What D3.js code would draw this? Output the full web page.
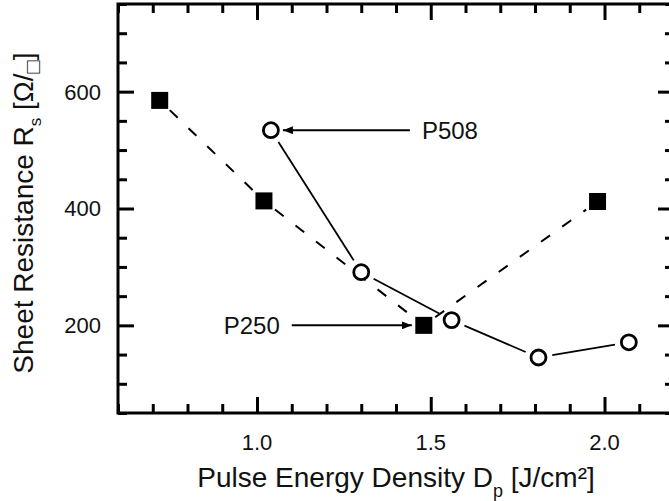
<!DOCTYPE html>
<html>
<head>
<meta charset="utf-8">
<script src="https://cdn.jsdelivr.net/npm/d3@7"></script>
<style>
  html, body { margin: 0; padding: 0; background: #fff; }
  svg { display: block; font-family: "Liberation Sans", Arial, sans-serif; }
</style>
</head>
<body>
<svg id="chart" width="669" height="501"></svg>
<script>
// Sheet resistance vs. pulse energy density for two samples
const energyP250 = [0.72, 1.02, 1.48, 1.98];
const rsP250     = [585, 413, 200, 412];
const energyP508 = [1.04, 1.30, 1.56, 1.81, 2.07];
const rsP508     = [534, 291, 209, 145, 171];

const xMajorTicks = [1.0, 1.5, 2.0];
const xTickLabels = ["1.0", "1.5", "2.0"];
const yMajorTicks = [200, 400, 600];
const yTickLabels = ["200", "400", "600"];

// Arrow annotations: label, series, point index, tail position in energy units
const annotations = [
  { label: "P508", series: "P508", index: 0, tailX: 1.44 },
  { label: "P250", series: "P250", index: 2, tailX: 1.10 }
];

const svg = d3.select("#chart");
const plotLeft = 118, plotRight = 674, plotTop = 4, plotBottom = 413;

const x = d3.scaleLinear().domain([0.6, 2.2]).range([plotLeft, plotRight]);
const y = d3.scaleLinear().domain([50, 750]).range([plotBottom, plotTop]);

const p250 = energyP250.map((e, i) => ({ x: e, y: rsP250[i] }));
const p508 = energyP508.map((e, i) => ({ x: e, y: rsP508[i] }));
const seriesMap = { P250: p250, P508: p508 };

// minor tick values
const xMinor = d3.range(6, 23).map(d => d / 10).filter(v => !xMajorTicks.some(m => Math.abs(m - v) < 1e-6));
const yMinor = d3.range(50, 751, 50).filter(v => !yMajorTicks.includes(v));

const majorLen = 16, minorLen = 9;
const frameW = 3;

// axes built with d3 axis generators, ticks pointing inward
function styleAxis(g) {
  g.select(".domain").remove();
  g.selectAll(".tick line").attr("stroke", "#000").attr("stroke-width", frameW);
}

function addAxis(gen, tx, ty, values, len) {
  svg.append("g").attr("transform", `translate(${tx},${ty})`)
    .call(gen.tickValues(values).tickSizeInner(-len).tickSizeOuter(0).tickFormat(""))
    .call(styleAxis);
}

addAxis(d3.axisBottom(x), 0, plotBottom, xMajorTicks, majorLen);
addAxis(d3.axisBottom(x), 0, plotBottom, xMinor, minorLen);
addAxis(d3.axisTop(x), 0, plotTop, xMajorTicks, majorLen);
addAxis(d3.axisTop(x), 0, plotTop, xMinor, minorLen);
addAxis(d3.axisLeft(y), plotLeft, 0, yMajorTicks, majorLen);
addAxis(d3.axisLeft(y), plotLeft, 0, yMinor, minorLen);
addAxis(d3.axisRight(y), plotRight, 0, yMajorTicks, majorLen);
addAxis(d3.axisRight(y), plotRight, 0, yMinor, minorLen);

// frame
svg.append("rect")
  .attr("x", plotLeft).attr("y", plotTop)
  .attr("width", plotRight - plotLeft).attr("height", plotBottom - plotTop)
  .attr("fill", "none").attr("stroke", "#000").attr("stroke-width", frameW);

// tick labels
svg.append("g").selectAll("text").data(xMajorTicks).join("text")
  .attr("x", d => x(d)).attr("y", 450)
  .attr("text-anchor", "middle").attr("font-size", 22).attr("fill", "#111")
  .text((d, i) => xTickLabels[i]);
svg.append("g").selectAll("text").data(yMajorTicks).join("text")
  .attr("x", 101).attr("y", d => y(d)).attr("dy", "0.36em")
  .attr("text-anchor", "end").attr("font-size", 22).attr("fill", "#111")
  .text((d, i) => yTickLabels[i]);

// axis titles
const xTitle = svg.append("text")
  .attr("x", (plotLeft + plotRight) / 2).attr("y", 487)
  .attr("text-anchor", "middle").attr("font-size", 28).attr("fill", "#111");
xTitle.append("tspan").text("Pulse Energy Density D");
xTitle.append("tspan").attr("font-size", 18).attr("dy", 10).text("p");
xTitle.append("tspan").attr("dy", -10).text(" [J/cm²]");

const yTitle = svg.append("text")
  .attr("transform", `translate(33,${(383 + 43) / 2}) rotate(-90)`)
  .attr("text-anchor", "middle").attr("font-size", 28).attr("fill", "#111");
yTitle.append("tspan").text("Sheet Resistance R");
yTitle.append("tspan").attr("font-size", 17).attr("dy", 8).text("s");
yTitle.append("tspan").attr("dy", -8).text(" [Ω/");
yTitle.append("tspan").attr("font-size", 22).attr("dy", 7).text("□");
yTitle.append("tspan").attr("dy", -7).text("]");

// connecting segments, trimmed short of the markers
const gap = 14;
function segments(pts) {
  const out = [];
  for (let i = 0; i < pts.length - 1; i++) {
    const x1 = x(pts[i].x), y1 = y(pts[i].y), x2 = x(pts[i + 1].x), y2 = y(pts[i + 1].y);
    const len = Math.hypot(x2 - x1, y2 - y1);
    const ux = (x2 - x1) / len, uy = (y2 - y1) / len;
    out.push({ x1: x1 + ux * gap, y1: y1 + uy * gap, x2: x2 - ux * gap, y2: y2 - uy * gap });
  }
  return out;
}

svg.append("g").selectAll("line").data(segments(p250)).join("line")
  .attr("x1", d => d.x1).attr("y1", d => d.y1).attr("x2", d => d.x2).attr("y2", d => d.y2)
  .attr("stroke", "#000").attr("stroke-width", 2).attr("stroke-dasharray", "11,15");

svg.append("g").selectAll("line").data(segments(p508)).join("line")
  .attr("x1", d => d.x1).attr("y1", d => d.y1).attr("x2", d => d.x2).attr("y2", d => d.y2)
  .attr("stroke", "#000").attr("stroke-width", 1.8);

// markers
const sq = 17;
svg.append("g").selectAll("rect").data(p250).join("rect")
  .attr("x", d => x(d.x) - sq / 2).attr("y", d => y(d.y) - sq / 2)
  .attr("width", sq).attr("height", sq).attr("fill", "#000");

svg.append("g").selectAll("circle").data(p508).join("circle")
  .attr("cx", d => x(d.x)).attr("cy", d => y(d.y)).attr("r", 7.5)
  .attr("fill", "#fff").attr("stroke", "#000").attr("stroke-width", 2.8);

// arrow annotations
svg.append("defs").append("marker")
  .attr("id", "arrowhead")
  .attr("markerUnits", "userSpaceOnUse")
  .attr("viewBox", "0 0 10 8")
  .attr("refX", 10).attr("refY", 4)
  .attr("markerWidth", 10).attr("markerHeight", 8)
  .attr("orient", "auto")
  .append("path").attr("d", "M0,0 L10,4 L0,8 Z").attr("fill", "#000");

annotations.forEach(a => {
  const pt = seriesMap[a.series][a.index];
  const px = x(pt.x), py = y(pt.y);
  const tx = x(a.tailX);
  const dir = tx > px ? 1 : -1;          // label sits on the tail side
  const tipX = px + dir * 12;
  svg.append("line")
    .attr("x1", tx).attr("y1", py).attr("x2", tipX).attr("y2", py)
    .attr("stroke", "#000").attr("stroke-width", 2)
    .attr("marker-end", "url(#arrowhead)");
  svg.append("text")
    .attr("x", tx + dir * 12).attr("y", py).attr("dy", "0.36em")
    .attr("text-anchor", dir > 0 ? "start" : "end")
    .attr("font-size", 24).attr("fill", "#111")
    .text(a.label);
});
</script>
</body>
</html>
